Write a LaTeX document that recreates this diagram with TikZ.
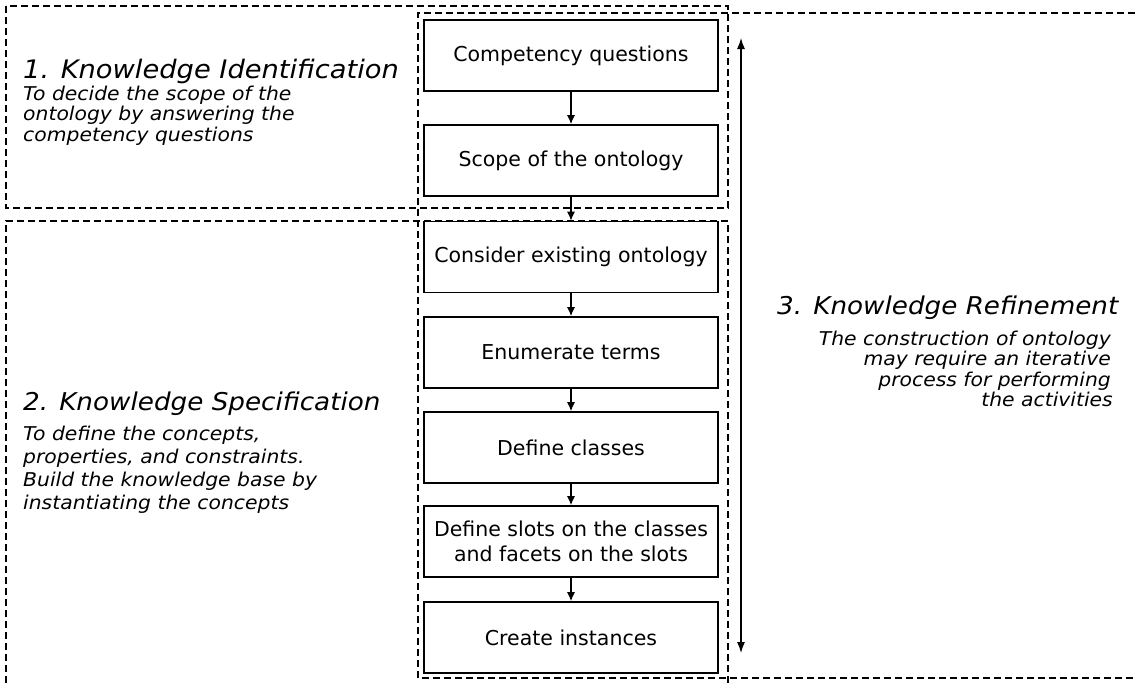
\documentclass[tikz,border=0pt]{standalone}
\usepackage{fontspec}
\setmainfont{DejaVu Sans}
\newfontfamily\itfont{DejaVu Sans}[FakeStretch=1.07]
\usetikzlibrary{arrows.meta}
\begin{document}
\begin{tikzpicture}[x=1pt,y=-1pt,
 stepbox/.style={draw, line width=1.6pt, minimum width=294pt, minimum height=71pt, inner sep=2pt, align=center, font=\fontsize{20.5}{25}\selectfont},
 region/.style={line width=1.25pt, dash pattern=on 7pt off 4pt},
 flow/.style={line width=1.3pt, -{Latex[length=9pt,width=8pt]}},
 ttl/.style={anchor=base west, inner sep=0pt, font=\itfont\itshape\fontsize{25.5}{28}\selectfont},
 para/.style={anchor=base west, inner sep=0pt, font=\itfont\itshape\fontsize{19}{21}\selectfont},
 parar/.style={para, anchor=base east}
]
\useasboundingbox (0,0) rectangle (1135,683);
% regions
\draw[region] (6,6) rectangle (728,208);
\draw[region] (6,683) -- (6,221) -- (728,221) -- (728,683);
\draw[region] (1135,13) -- (418,13) -- (418,678) -- (1135,678);
% boxes
\node[stepbox] (cq) at (571,55.5) {Competency questions};
\node[stepbox] (so) at (571,160.5) {Scope of the ontology};
\node[stepbox] (ce) at (571,257) {Consider existing ontology};
\node[stepbox] (et) at (571,352.5) {Enumerate terms};
\node[stepbox] (dc) at (571,447.5) {Define classes};
\node[stepbox] (ds) at (571,541.5) {Define slots on the classes\\and facets on the slots};
\node[stepbox] (ci) at (571,637.5) {Create instances};
\draw[flow] (cq) -- (so);
\draw[flow] (so) -- (ce);
\draw[flow] (ce) -- (et);
\draw[flow] (et) -- (dc);
\draw[flow] (dc) -- (ds);
\draw[flow] (ds) -- (ci);
% refinement arrow
\coordinate (rt) at (741,38);
\coordinate (rb) at (741,653);
\draw[line width=1.3pt, {Latex[length=11pt,width=8pt]}-{Latex[length=11pt,width=8pt]}] (rt) -- (rb);
% texts
\node[ttl] (t1) at (23,78) {1. Knowledge Identification};
\node[para] (p1a) at (23,100) {To decide the scope of the};
\node[para] (p1b) at (23,120.5) {ontology by answering the};
\node[para] (p1c) at (23,141) {competency questions};
\node[ttl, font=\itfont\itshape\fontsize{24.5}{28}\selectfont] (t2) at (23,410) {2. Knowledge Specification};
\node[para] (p2a) at (23,440) {To define the concepts,};
\node[para] (p2b) at (23,463) {properties, and constraints.};
\node[para] (p2c) at (23,486) {Build the knowledge base by};
\node[para] (p2d) at (23,509) {instantiating the concepts};
\node[ttl, font=\itfont\itshape\fontsize{24.5}{28}\selectfont] (t3) at (777,314) {3. Knowledge Refinement};
\node[parar] (p3a) at (1111,345) {The construction of ontology};
\node[parar] (p3b) at (1111,365.5) {may require an iterative};
\node[parar] (p3c) at (1111,386) {process for performing};
\node[parar] (p3d) at (1113,406) {the activities};
\end{tikzpicture}
\end{document}
